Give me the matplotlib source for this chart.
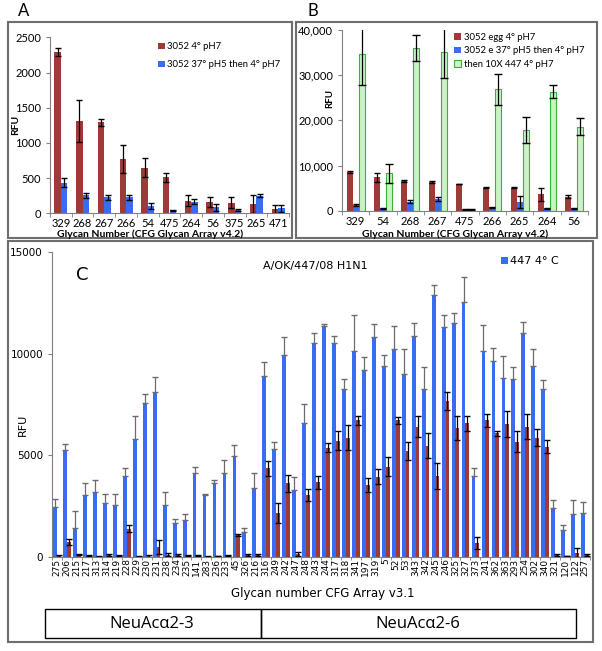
import matplotlib
matplotlib.use("Agg")
import matplotlib.pyplot as plt
import numpy as np
from matplotlib.patches import Rectangle

# ---------------- Panel A data ----------------
a_cats = ["329", "268", "267", "266", "54", "475", "264", "56", "375", "265", "471"]
a_red = [2290, 1310, 1290, 770, 650, 510, 180, 165, 150, 130, 62]
a_red_err = [55, 300, 45, 200, 130, 65, 80, 70, 75, 125, 55]
a_blue = [436, 255, 225, 225, 100, 45, 165, 85, 45, 250, 70]
a_blue_err = [60, 40, 35, 35, 40, 8, 35, 50, 10, 20, 50]
a_labels = ["3052 4° pH7", "3052 37° pH5 then 4° pH7"]

# ---------------- Panel B data ----------------
b_cats = ["329", "54", "268", "267", "475", "266", "265", "264", "56"]
b_red = [8640, 7380, 6570, 6270, 5900, 5090, 5090, 3620, 3100]
b_red_err = [200, 1000, 200, 200, 100, 100, 100, 1400, 350]
b_blue = [1250, 520, 1990, 2580, 300, 740, 1990, 520, 520]
b_blue_err = [150, 100, 300, 500, 50, 100, 1300, 100, 100]
b_green = [34600, 8270, 35940, 35200, 300, 26860, 17860, 26350, 18600]
b_green_err = [6800, 2100, 2900, 5900, 50, 3500, 2800, 1500, 1900]
b_labels = ["3052 egg 4° pH7", "3052 e 37° pH5 then 4° pH7", "then 10X 447 4° pH7"]

# ---------------- Panel C data ----------------
c_cats = ["275", "206", "215", "217", "313", "314", "219", "228", "229", "230",
          "231", "238", "234", "235", "141", "283", "236", "233", "45", "326",
          "216", "316", "249", "242", "247", "248", "243", "244", "317", "318",
          "341", "197", "319", "5", "52", "53", "343", "342", "245", "246",
          "325", "327", "373", "241", "362", "363", "293", "254", "302", "340",
          "321", "120", "122", "257"]
c_blue = [2450, 5250, 1450, 3070, 3200, 2680, 2550, 3970, 5830, 7600,
          8130, 2550, 1680, 1800, 4140, 3040, 3660, 4150, 4960, 1220,
          3380, 8920, 5330, 9950, 3300, 6580, 10520, 11350, 10520, 8260,
          10120, 9210, 10850, 9410, 10230, 9020, 10890, 8260, 12900, 11310,
          11510, 12530, 4010, 10150, 9670, 8800, 8770, 11050, 9410, 8260,
          2430, 1330, 2100, 2150]
c_blue_err = [420, 300, 800, 580, 580, 410, 570, 430, 1100, 410,
              740, 650, 170, 300, 290, 60, 150, 610, 540, 220,
              740, 700, 350, 870, 660, 960, 530, 110, 370, 490,
              1800, 620, 620, 540, 1150, 1210, 650, 1080, 500, 610,
              490, 1250, 360, 1280, 640, 1100, 570, 540, 820, 460,
              380, 250, 710, 580]
c_red = [50, 740, 120, 80, 20, 100, 60, 1400, 30, 50,
         490, 120, 100, 80, 60, 20, 50, 80, 1070, 120,
         80, 4370, 2150, 3630, 150, 3050, 3680, 5390, 5730, 5880,
         6720, 3550, 3960, 4450, 6720, 5220, 6420, 5470, 3990, 7700,
         6370, 6580, 670, 6720, 6090, 6550, 5680, 6420, 5880, 5430,
         100, 50, 210, 100]
c_red_err = [30, 160, 40, 40, 10, 40, 30, 160, 20, 30,
             330, 60, 40, 40, 30, 10, 20, 40, 60, 50,
             50, 370, 500, 410, 110, 280, 310, 240, 480, 600,
             200, 330, 380, 460, 150, 460, 520, 620, 620, 440,
             590, 360, 300, 330, 130, 640, 530, 620, 410, 330,
             40, 20, 210, 40]
c_title = "A/OK/447/08 H1N1"
c_legend = "447 4° C"
c_groups = ["NeuAcα2-3", "NeuAcα2-6"]

RED = "#9e3a38"
BLUE = "#3a6cf2"
GREEN_FACE = "#c9f3c3"
GREEN_EDGE = "#38b23a"
FRAME = "#6e6e6e"

W, H = 602, 651
fig = plt.figure(figsize=(W / 100, H / 100), dpi=100)
plt.rcParams['font.family'] = ['DejaVu Sans']


def add_ax(left, top, right, bottom):
    return fig.add_axes([left / W, 1 - bottom / H, (right - left) / W, (bottom - top) / H])


def frame(left, top, right, bottom, lw=1.5, color=FRAME):
    fig.add_artist(Rectangle((left / W, 1 - bottom / H), (right - left) / W, (bottom - top) / H,
                             transform=fig.transFigure, fill=False, edgecolor=color, lw=lw))


def ftext(x, y, s, **kw):
    fig.text(x / W, 1 - y / H, s, ha="center", va="center", **kw)


def style_axes(ax, n, fs):
    for s in ["top", "right"]:
        ax.spines[s].set_visible(False)
    ax.spines["left"].set_color("#808080")
    ax.spines["bottom"].set_color("#808080")
    ax.set_xlim(-0.5, n - 0.5)
    ax.set_xticks(np.arange(n))
    ax.set_xticks(np.arange(n + 1) - 0.5, minor=True)
    ax.tick_params(axis="x", which="major", length=0, labelsize=fs)
    ax.tick_params(axis="x", which="minor", length=3, color="#808080")
    ax.tick_params(axis="y", length=3, color="#808080", labelsize=fs)


LAT = ['Lato', 'DejaVu Sans']

# ---------------- Panel A ----------------
frame(8, 22, 292, 238)
axA = add_ax(50, 37.3, 289, 213.3)
xa = np.arange(len(a_cats))
axA.bar(xa - 0.15, a_red, 0.3, color=RED, label=a_labels[0])
axA.bar(xa + 0.15, a_blue, 0.3, color=BLUE, label=a_labels[1])
axA.errorbar(xa - 0.15, a_red, yerr=a_red_err, fmt="none", ecolor="black", elinewidth=0.9, capsize=2.5)
axA.errorbar(xa + 0.15, a_blue, yerr=a_blue_err, fmt="none", ecolor="black", elinewidth=0.9, capsize=2.5)
axA.set_ylim(0, 2500)
axA.set_yticks([0, 500, 1000, 1500, 2000, 2500])
style_axes(axA, len(a_cats), 8)
axA.set_xticklabels(a_cats, family=LAT)
for t in axA.get_yticklabels():
    t.set_family(LAT)
ftext(16, 125, "RFU", rotation=90, fontsize=7.5, fontweight="bold", family=LAT)
axA.legend(loc="upper right", bbox_to_anchor=(1.0, 1.02), frameon=False, prop={"family": LAT, "size": 6.8},
           handlelength=0.7, handleheight=0.7, handletextpad=0.3, labelspacing=0.95)
ftext(150, 234, "Glycan Number (CFG Glycan Array v4.2)", fontsize=7.5, fontweight="bold", family=LAT)
ftext(24, 11, "A", fontsize=12, family=LAT)

# ---------------- Panel B ----------------
frame(296, 22, 597, 238)
axB = add_ax(342, 30, 588, 210.7)
xb = np.arange(len(b_cats))
bw = 0.22
axB.bar(xb - bw, b_red, bw, color=RED, label=b_labels[0])
axB.bar(xb, b_blue, bw, color=BLUE, label=b_labels[1])
axB.bar(xb + bw, b_green, bw, color=GREEN_FACE, edgecolor=GREEN_EDGE, lw=0.8, label=b_labels[2])
axB.errorbar(xb - bw, b_red, yerr=b_red_err, fmt="none", ecolor="black", elinewidth=0.9, capsize=2.5)
axB.errorbar(xb, b_blue, yerr=b_blue_err, fmt="none", ecolor="black", elinewidth=0.9, capsize=2.5)
axB.errorbar(xb + bw, b_green, yerr=b_green_err, fmt="none", ecolor="black", elinewidth=0.9, capsize=3)
axB.set_ylim(0, 40000)
axB.set_yticks([0, 10000, 20000, 30000, 40000])
axB.set_yticklabels(["0", "10,000", "20,000", "30,000", "40,000"])
style_axes(axB, len(b_cats), 8)
axB.set_xticklabels(b_cats, family=LAT)
for t in axB.get_yticklabels():
    t.set_family(LAT)
ftext(330, 98, "RFU", rotation=90, fontsize=7, fontweight="bold", family=LAT)
axB.legend(loc="upper right", bbox_to_anchor=(1.02, 1.03), frameon=False, prop={"family": LAT, "size": 6.8},
           handlelength=0.7, handleheight=0.7, handletextpad=0.3, labelspacing=0.45)
ftext(455, 234, "Glycan Number (CFG Glycan Array v4.2)", fontsize=7.5, fontweight="bold", family=LAT)
ftext(313, 11, "B", fontsize=12, family=LAT)

# ---------------- Panel C ----------------
frame(8, 241, 593, 642)
axC = add_ax(52, 252.3, 590, 557)
xc = np.arange(len(c_cats))
cw = 0.38
axC.bar(xc - cw / 2, c_blue, cw, color=BLUE, label=c_legend)
axC.bar(xc + cw / 2, c_red, cw, color=RED)
axC.errorbar(xc - cw / 2, c_blue, yerr=[np.zeros(len(c_blue)), c_blue_err], fmt="none",
             ecolor="#6b6b6b", elinewidth=0.9, capsize=2)
axC.errorbar(xc + cw / 2, c_red, yerr=c_red_err, fmt="none", ecolor="black", elinewidth=0.9, capsize=2)
axC.set_ylim(0, 15000)
axC.set_yticks([0, 5000, 10000, 15000])
style_axes(axC, len(c_cats), 7.5)
axC.tick_params(axis="x", which="minor", length=2)
axC.tick_params(axis="y", labelsize=7.5)
axC.set_xticklabels(c_cats, rotation=90, fontsize=6.5)
axC.tick_params(axis="x", which="major", pad=1)
ftext(23, 425, "RFU", rotation=90, fontsize=8)
axC.text(0.489, 0.955, c_title, transform=axC.transAxes, ha="center", va="center", fontsize=8)
axC.text(0.056, 0.925, "C", transform=axC.transAxes, ha="center", va="center", fontsize=13)
axC.legend(loc="upper right", bbox_to_anchor=(0.96, 1.02), frameon=False, fontsize=8,
           handlelength=0.6, handleheight=0.6, handletextpad=0.2)
ftext(323, 593, "Glycan number CFG Array v3.1", fontsize=8.5)

# group boxes
frame(45, 609, 260.7, 638, lw=1.0, color="black")
frame(260.7, 609, 576, 638, lw=1.0, color="black")
ftext(152, 624, c_groups[0], fontsize=12, family=['Open Sans', 'DejaVu Sans'])
ftext(418, 624, c_groups[1], fontsize=12, family=['Open Sans', 'DejaVu Sans'])

fig.savefig("out.png", dpi=100)
